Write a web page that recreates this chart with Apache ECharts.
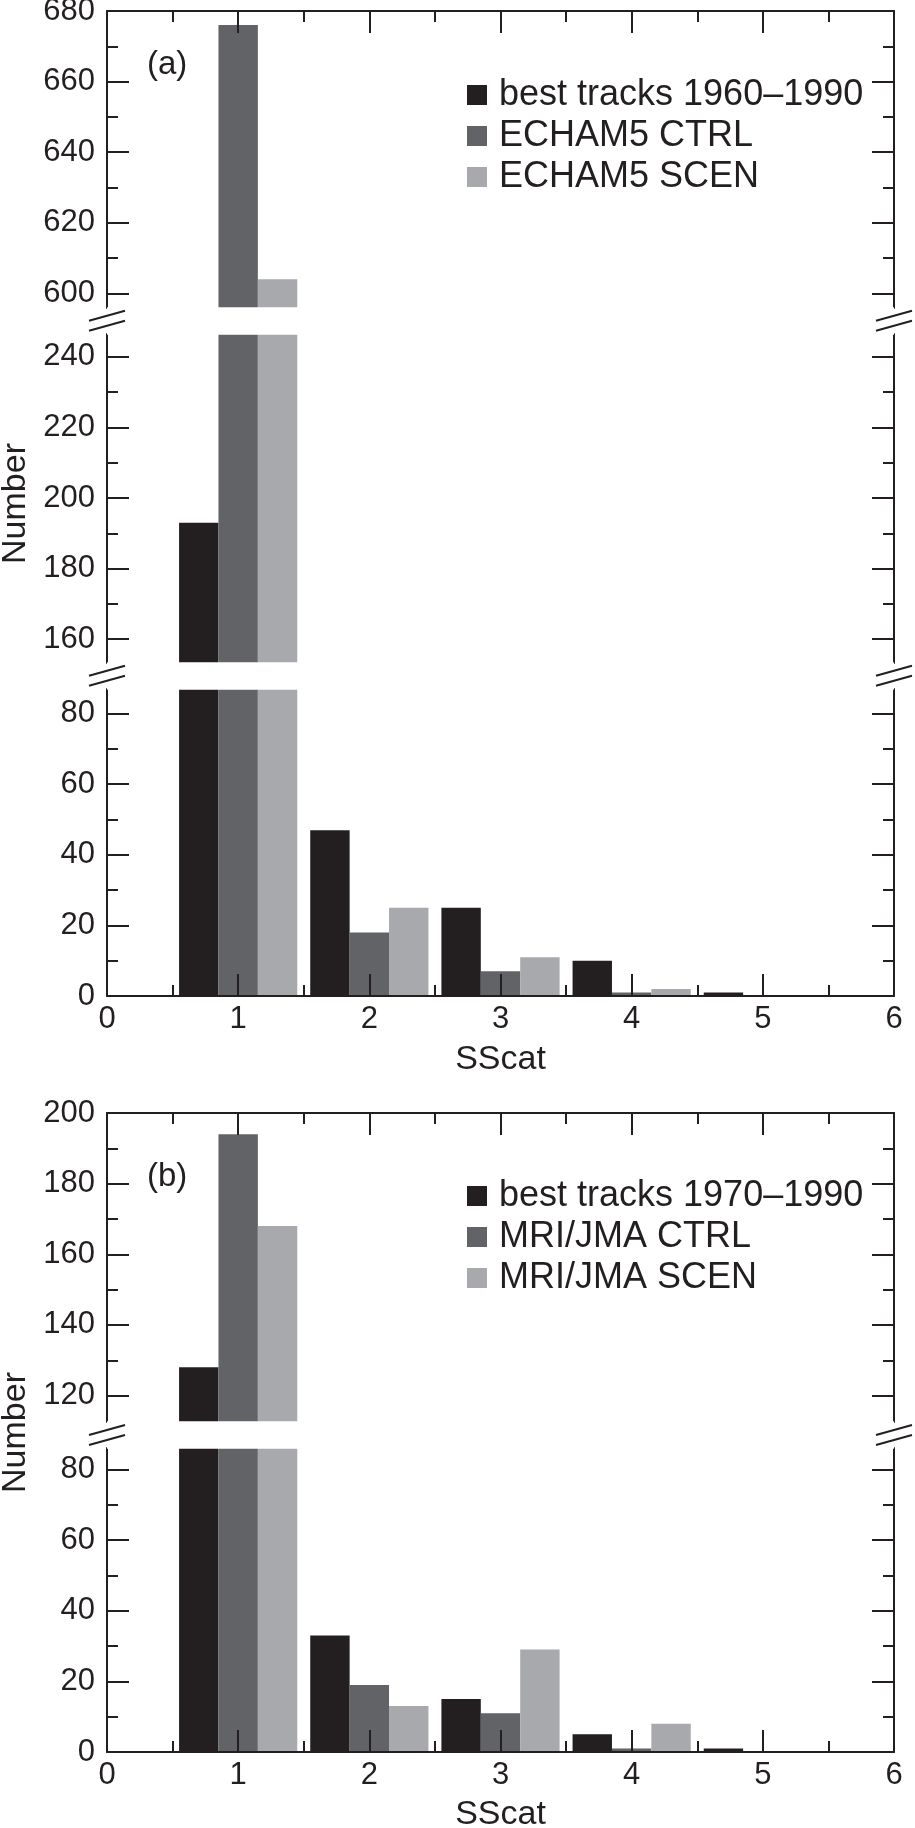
<!DOCTYPE html>
<html>
<head>
<meta charset="utf-8">
<script src="https://cdn.jsdelivr.net/npm/echarts@6/dist/echarts.min.js"></script>
<style>
html, body { margin: 0; padding: 0; background: #fff; }
#chart { width: 915px; height: 1828px; }
</style>
</head>
<body>
<div id="chart"></div>
<script>
// SScat categories and counts
var sscat = [1, 2, 3, 4, 5];
var bestA = [193, 47, 25, 10, 1];
var ctrlA = [676, 18, 7, 1, 0];
var scenA = [604, 25, 11, 2, 0];
var bestB = [128, 33, 15, 5, 1];
var ctrlB = [194, 19, 11, 1, 0];
var scenB = [168, 13, 29, 8, 0];
var namesA = ['best tracks 1960–1990', 'ECHAM5 CTRL', 'ECHAM5 SCEN'];
var namesB = ['best tracks 1970–1990', 'MRI/JMA CTRL', 'MRI/JMA SCEN'];
// broken y ranges (start, end)
var breaksA = [[87, 153.4], [246.5, 596]];
var breaksB = [[86, 112.6]];
var maxA = 680, maxB = 200;
// y tick labels (major) and minor ticks
var majorA = [0, 20, 40, 60, 80, 160, 180, 200, 220, 240, 600, 620, 640, 660, 680];
var minorA = [10, 30, 50, 70, 170, 190, 210, 230, 610, 630, 650, 670];
var majorB = [0, 20, 40, 60, 80, 120, 140, 160, 180, 200];
var minorB = [10, 30, 50, 70, 130, 150, 170, 190];

var ink = '#231f20';
var colors = ['#231f20', '#626366', '#a7a9ac'];
var font = '"Liberation Sans", Arial, Helvetica, sans-serif';

var box = document.getElementById('chart');
var myChart = echarts.init(box);

function pairs(vals) {
    return vals.map(function (v, i) { return [sscat[i], v]; });
}

// kind: 'label' = left axis with labels, 'plain' = right mirror, 'minor' = short ticks only
function yAxis(grid, max, brks, ticks, pos, kind) {
    var minor = kind === 'minor';
    return {
        type: 'value',
        gridIndex: grid,
        position: pos,
        min: 0,
        max: max,
        z: 3,
        breaks: brks.map(function (b) { return { start: b[0], end: b[1], gap: 7.5 }; }),
        breakArea: {
            show: !minor,
            expandOnClick: false,
            zigzagAmplitude: 0,
            itemStyle: { color: '#fff', opacity: 1, borderWidth: 0 }
        },
        axisLine: { show: !minor, onZero: false, lineStyle: { color: ink, width: 2 } },
        axisTick: {
            show: true, inside: true, length: minor ? 11 : 22,
            customValues: ticks,
            lineStyle: { color: ink, width: 2 }
        },
        minorTick: { show: false },
        splitLine: { show: false },
        axisLabel: {
            show: kind === 'label',
            customValues: ticks,
            margin: 12,
            fontSize: 31,
            color: ink,
            fontFamily: font
        },
        name: kind === 'label' ? 'Number' : '',
        nameLocation: 'middle',
        nameGap: 74,
        nameTextStyle: { fontSize: 34, color: ink, fontFamily: font }
    };
}

function xAxis(grid, pos, main, gap) {
    return {
        type: 'value',
        gridIndex: grid,
        position: pos,
        min: 0,
        max: 6,
        interval: 1,
        z: 3,
        axisLine: { show: true, onZero: false, lineStyle: { color: ink, width: 2 } },
        axisTick: { show: true, inside: true, length: 22, lineStyle: { color: ink, width: 2 } },
        minorTick: { show: true, splitNumber: 2, length: 11, lineStyle: { color: ink, width: 2 } },
        splitLine: { show: false },
        axisLabel: { show: main, margin: 8, fontSize: 31, color: ink, fontFamily: font },
        name: main ? 'SScat' : '',
        nameLocation: 'middle',
        nameGap: gap,
        nameTextStyle: { fontSize: 34, color: ink, fontFamily: font }
    };
}

function bars(name, vals, k, xi, yi) {
    return {
        name: name,
        type: 'bar',
        xAxisIndex: xi,
        yAxisIndex: yi,
        barWidth: 39.4,
        barGap: '0%',
        itemStyle: { color: colors[k] },
        data: pairs(vals)
    };
}

function legend(names, top) {
    return {
        data: names,
        orient: 'vertical',
        left: 467,
        top: top,
        padding: 0,
        icon: 'rect',
        itemWidth: 20,
        itemHeight: 20,
        itemGap: 5,
        selectedMode: false,
        textStyle: { fontSize: 36, lineHeight: 35, color: ink, fontFamily: font, padding: [0, 0, 0, 7] }
    };
}

var option = {
    animation: false,
    backgroundColor: '#fff',
    title: [
        { text: '(a)', left: 147, top: 48, padding: 0, textStyle: { fontSize: 33, fontWeight: 'normal', color: ink, fontFamily: font } },
        { text: '(b)', left: 147, top: 1160, padding: 0, textStyle: { fontSize: 33, fontWeight: 'normal', color: ink, fontFamily: font } }
    ],
    legend: [legend(namesA, 77), legend(namesB, 1178)],
    grid: [
        { left: 107, right: 21, top: 11, height: 985, outerBoundsMode: 'none' },
        { left: 107, right: 21, top: 1113, height: 639, outerBoundsMode: 'none' }
    ],
    xAxis: [
        xAxis(0, 'bottom', true, 47),
        xAxis(0, 'top', false, 0),
        xAxis(1, 'bottom', true, 46),
        xAxis(1, 'top', false, 0)
    ],
    yAxis: [
        yAxis(0, maxA, breaksA, majorA, 'left', 'label'),
        yAxis(0, maxA, breaksA, majorA, 'right', 'plain'),
        yAxis(0, maxA, breaksA, minorA, 'left', 'minor'),
        yAxis(0, maxA, breaksA, minorA, 'right', 'minor'),
        yAxis(1, maxB, breaksB, majorB, 'left', 'label'),
        yAxis(1, maxB, breaksB, majorB, 'right', 'plain'),
        yAxis(1, maxB, breaksB, minorB, 'left', 'minor'),
        yAxis(1, maxB, breaksB, minorB, 'right', 'minor')
    ],
    series: [
        bars(namesA[0], bestA, 0, 0, 0),
        bars(namesA[1], ctrlA, 1, 0, 0),
        bars(namesA[2], scenA, 2, 0, 0),
        bars(namesB[0], bestB, 0, 2, 4),
        bars(namesB[1], ctrlB, 1, 2, 4),
        bars(namesB[2], scenB, 2, 2, 4)
    ]
};
myChart.setOption(option);

// "//" break marks on both frame sides, placed through the axis scales
function breakMarks(xi, yi, brks) {
    var els = [];
    var xl = myChart.convertToPixel({ xAxisIndex: xi }, 0);
    var xr = myChart.convertToPixel({ xAxisIndex: xi }, 6);
    brks.forEach(function (b) {
        var ym = (myChart.convertToPixel({ yAxisIndex: yi }, b[0]) +
                  myChart.convertToPixel({ yAxisIndex: yi }, b[1])) / 2;
        [xl, xr].forEach(function (x) {
            els.push({ type: 'rect', z: 100, shape: { x: x - 3, y: ym - 5, width: 6, height: 10 }, style: { fill: '#fff' } });
            [-5, 5].forEach(function (d) {
                els.push({ type: 'line', z: 101, shape: { x1: x - 18, y1: ym + d + 5, x2: x + 18, y2: ym + d - 5 },
                           style: { stroke: ink, lineWidth: 2 } });
            });
        });
    });
    return els;
}
myChart.setOption({ graphic: breakMarks(0, 0, breaksA).concat(breakMarks(2, 4, breaksB)) });
</script>
</body>
</html>
